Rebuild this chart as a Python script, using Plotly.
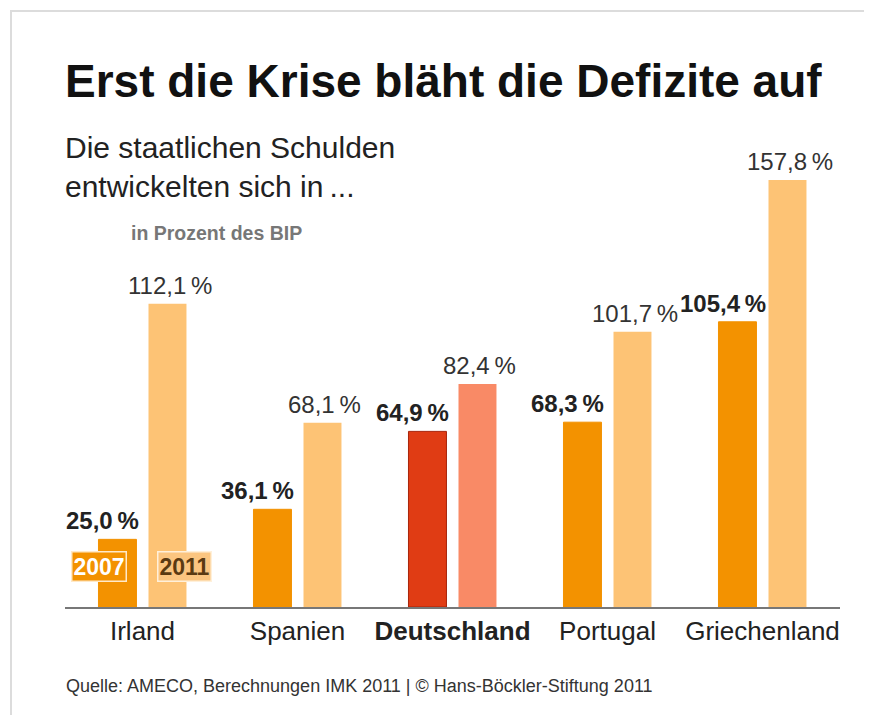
import plotly.graph_objects as go

countries = ["Irland", "Spanien", "Deutschland", "Portugal", "Griechenland"]
tick_text = ["Irland", "Spanien", "<b>Deutschland</b>", "Portugal", "Griechenland"]
debt_2007 = [25.0, 36.1, 64.9, 68.3, 105.4]
debt_2011 = [112.1, 68.1, 82.4, 101.7, 157.8]
labels_2007 = ["25,0\u2009%", "36,1\u2009%", "64,9\u2009%", "68,3\u2009%", "105,4\u2009%"]
labels_2011 = ["112,1\u2009%", "68,1\u2009%", "82,4\u2009%", "101,7\u2009%", "157,8\u2009%"]

col_2007 = ["#F39200", "#F39200", "#E03C14", "#F39200", "#F39200"]
col_2011 = ["#FDC375", "#FDC375", "#F98A66", "#FDC375", "#FDC375"]
line_2007 = ["#F39200", "#F39200", "#A8240A", "#F39200", "#F39200"]

FONT = "Liberation Sans Narrow, Arial Narrow, Liberation Sans, Arial, sans-serif"

# page body has an 8px margin: size the figure to fit the window and compensate
OFF = 8
W, H = 872 - OFF, 715 - OFF
px = lambda x: (x - OFF) / W
py = lambda y: 1 - (y - OFF) / H

x_left, x_right = 65, 840
base_y, ymax = 607, 170
unit = 2.706
top_y = base_y - ymax * unit

fig = go.Figure()
fig.add_bar(x=countries, y=debt_2007, name="2007", width=0.245, offset=-0.284,
            marker=dict(color=col_2007, line=dict(color=line_2007, width=1)),
            hoverinfo="skip")
fig.add_bar(x=countries, y=debt_2011, name="2011", width=0.245, offset=0.0387,
            marker=dict(color=col_2011, line=dict(width=0)),
            hoverinfo="skip")

for c, v, t in zip(countries, debt_2007, labels_2007):
    fig.add_annotation(x=c, y=v, text="<b>" + t + "</b>", showarrow=False,
                       xref="x", yref="y", xanchor="center", yanchor="bottom",
                       xshift=-40, yshift=3,
                       font=dict(family=FONT, size=24, color="#222222"))
for c, v, t in zip(countries, debt_2011, labels_2011):
    fig.add_annotation(x=c, y=v, text=t, showarrow=False,
                       xref="x", yref="y", xanchor="center", yanchor="bottom",
                       xshift=27, yshift=3,
                       font=dict(family=FONT, size=24, color="#333333"))

# Titles
fig.add_annotation(x=px(63), y=py(109), xref="paper", yref="paper", xanchor="left", yanchor="bottom",
                   text="<b>Erst die Krise bläht die Defizite auf</b>", showarrow=False,
                   font=dict(family=FONT, size=46, color="#111111"))
fig.add_annotation(x=px(63), y=py(205), xref="paper", yref="paper", xanchor="left", yanchor="bottom",
                   text="Die staatlichen Schulden<br>entwickelten sich in\u2009...", showarrow=False, align="left",
                   font=dict(family=FONT, size=30, color="#222222"))
fig.add_annotation(x=px(129), y=py(233), xref="paper", yref="paper", xanchor="left", yanchor="middle",
                   text="<b>in Prozent des BIP</b>", showarrow=False,
                   font=dict(family=FONT, size=19.5, color="#777777"))

# Legend boxes
fig.add_annotation(x=px(99), y=py(566), xref="paper", yref="paper", xanchor="center", yanchor="middle",
                   text="<b>2007</b>", showarrow=False, bgcolor="#F39200", bordercolor="#FFE9C8",
                   borderwidth=1.5, borderpad=1,
                   font=dict(family=FONT, size=23, color="#FFFFFF"))
fig.add_annotation(x=px(184), y=py(566), xref="paper", yref="paper", xanchor="center", yanchor="middle",
                   text="<b>2011</b>", showarrow=False, bgcolor="#FBC580", bordercolor="#FFF0DA",
                   borderwidth=1.5, borderpad=1,
                   font=dict(family=FONT, size=23, color="#5A3A12"))

# Source
fig.add_annotation(x=px(64), y=py(686), xref="paper", yref="paper", xanchor="left", yanchor="middle",
                   text="Quelle: AMECO, Berechnungen IMK 2011 | © Hans-Böckler-Stiftung 2011",
                   showarrow=False, font=dict(family=FONT, size=18, color="#333333"))

# Frame lines (left and top)
fig.add_shape(type="line", xref="paper", yref="paper", x0=px(10), x1=1.0, y0=py(11), y1=py(11),
              line=dict(color="#DCDCDC", width=2))
fig.add_shape(type="line", xref="paper", yref="paper", x0=px(11), x1=px(11), y0=py(11), y1=0.0,
              line=dict(color="#DCDCDC", width=2))

fig.update_layout(
    width=W, height=H,
    margin=dict(l=0, r=0, t=0, b=0),
    paper_bgcolor="white", plot_bgcolor="white",
    showlegend=False,
    barmode="overlay",
    xaxis=dict(domain=[px(x_left), px(x_right)], range=[-0.5, 4.5], type="category",
               tickvals=countries, ticktext=tick_text, showgrid=False, zeroline=False,
               showline=True, linecolor="#777777", linewidth=2, ticks="",
               tickfont=dict(family=FONT, size=26, color="#222222"), fixedrange=True),
    yaxis=dict(domain=[py(base_y), py(top_y)], range=[0, ymax], visible=False,
               showgrid=False, zeroline=False, fixedrange=True),
)

fig.write_html("out.html")
